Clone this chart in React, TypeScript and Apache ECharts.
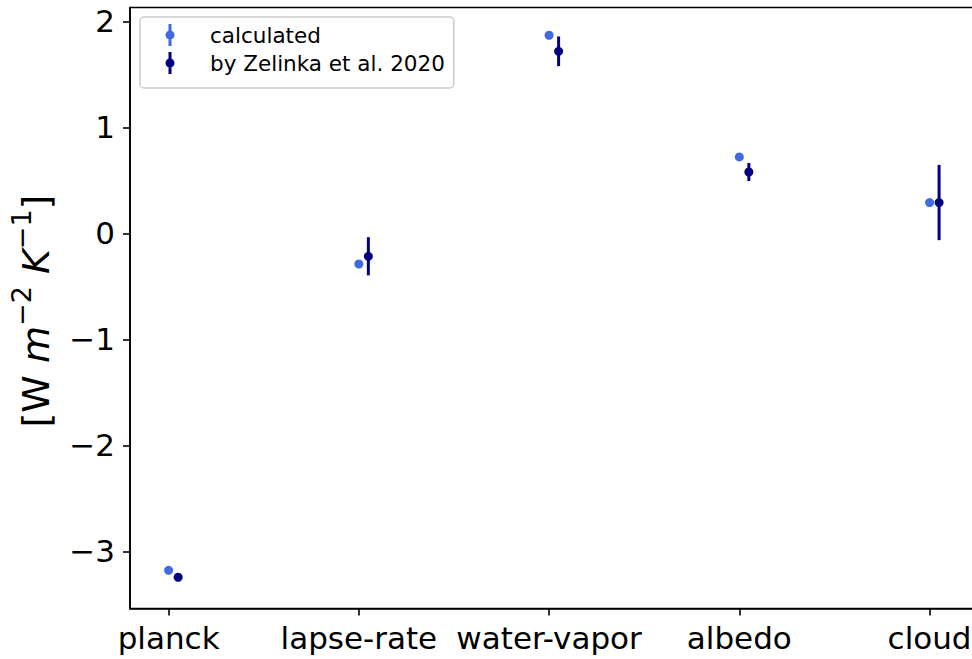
import React, { useEffect, useRef } from 'react';
import * as echarts from 'echarts';

const categories = ['planck', 'lapse-rate', 'water-vapor', 'albedo', 'cloud'];
const calculated = [-3.18, -0.29, 1.868, 0.72, 0.29];
const zelinka = [-3.245, -0.217, 1.717, 0.578, 0.29];
const zelinkaErr = [0.03, 0.18, 0.14, 0.085, 0.355];
const xTicks = [0, 1, 2, 3, 4];
const yTicks = [-3, -2, -1, 0, 1, 2];
const zelinkaOffset = 0.05;

const seriesNames = ['calculated', 'by Zelinka et al. 2020'];
const FONT = 'DejaVu Sans';
const ICON =
  'path://M3,0 L6,0 L6,22 L3,22 Z M0,11 A4.5,4.5 0 1 1 9,11 A4.5,4.5 0 1 1 0,11 Z';

export default function App() {
  const ref = useRef<HTMLDivElement>(null);

  useEffect(() => {
    if (!ref.current) return;
    const chart = echarts.init(ref.current, null, { renderer: 'svg' });
    const option: any = {
      animation: false,
      backgroundColor: '#ffffff',
      grid: {
        left: 129,
        right: 7.4,
        top: 7.5,
        bottom: 50.5,
        show: true,
        borderColor: '#000000',
        borderWidth: 1.6,
        backgroundColor: 'transparent',
      },
      legend: {
        orient: 'vertical',
        left: 140,
        top: 17,
        padding: [7, 9, 14, 25.5],
        itemWidth: 9,
        itemHeight: 22,
        itemGap: 6,
        symbolKeepAspect: true,
        backgroundColor: 'rgba(255,255,255,0.8)',
        borderColor: '#cccccc',
        borderWidth: 1.5,
        borderRadius: 4,
        formatter: (name: string) => `{t|${name}}`,
        textStyle: {
          fontFamily: FONT,
          fontSize: 21.5,
          color: '#000000',
          rich: {
            t: {
              fontFamily: FONT,
              fontSize: 21.5,
              color: '#000000',
              padding: [0, 0, 0, 30.5],
            },
          },
        },
        data: seriesNames.map((n) => ({ name: n, icon: ICON })),
      },
      xAxis: {
        type: 'value',
        min: -0.203,
        max: 4.2525,
        splitLine: { show: false },
        axisLine: { show: true, onZero: false, lineStyle: { color: '#000', width: 1.6 } },
        axisTick: {
          show: true,
          length: 7,
          customValues: xTicks,
          lineStyle: { color: '#000', width: 1.6 },
        },
        axisLabel: {
          customValues: xTicks,
          formatter: (v: number) => categories[Math.round(v)] ?? '',
          fontFamily: FONT,
          fontSize: 31,
          color: '#000',
          margin: 14,
        },
      },
      yAxis: {
        type: 'value',
        min: -3.54,
        max: 2.13,
        splitLine: { show: false },
        axisLine: { show: true, onZero: false, lineStyle: { color: '#000', width: 1.6 } },
        axisTick: {
          show: true,
          length: 7,
          customValues: yTicks,
          lineStyle: { color: '#000', width: 1.6 },
        },
        axisLabel: {
          customValues: yTicks,
          formatter: (v: number) => String(v).replace('-', '\u2212'),
          fontFamily: FONT,
          fontSize: 31,
          color: '#000',
          margin: 15,
        },
        name: '{n|[W }{i|m}{s|\u22122}{n| }{i|K}{s|\u22121}{n|]}',
        nameLocation: 'middle',
        nameGap: 67,
        nameTextStyle: {
          fontFamily: FONT,
          fontSize: 38,
          color: '#000',
          padding: [0, 6, 0, 0],
          rich: {
            n: { fontFamily: FONT, fontSize: 38, color: '#000' },
            i: { fontFamily: FONT, fontSize: 38, fontStyle: 'italic', color: '#000' },
            s: { fontFamily: FONT, fontSize: 27, color: '#000', padding: [0, 0, 28, 0] },
          },
        },
      },
      series: [
        {
          type: 'custom',
          name: 'errbar',
          silent: true,
          z: 2,
          data: zelinka.map((v, i) => [i + zelinkaOffset, v - zelinkaErr[i], v + zelinkaErr[i]]),
          encode: { x: 0, y: [1, 2] },
          renderItem: (params: any, api: any) => {
            const x = api.value(0);
            const p1 = api.coord([x, api.value(1)]);
            const p2 = api.coord([x, api.value(2)]);
            return {
              type: 'line',
              shape: { x1: p1[0], y1: p1[1], x2: p2[0], y2: p2[1] },
              style: { stroke: '#000080', lineWidth: 3 },
            };
          },
        },
        {
          type: 'scatter',
          name: seriesNames[0],
          z: 3,
          symbol: 'circle',
          symbolSize: 9,
          itemStyle: { color: '#4169E1', opacity: 1 },
          data: calculated.map((v, i) => [i, v]),
        },
        {
          type: 'scatter',
          name: seriesNames[1],
          z: 4,
          symbol: 'circle',
          symbolSize: 9,
          itemStyle: { color: '#000080', opacity: 1 },
          data: zelinka.map((v, i) => [i + zelinkaOffset, v]),
        },
      ],
    };
    chart.setOption(option);
    return () => chart.dispose();
  }, []);

  return (
    <div
      style={{
        position: 'absolute',
        left: 0,
        top: 0,
        width: 972,
        height: 659,
        overflow: 'hidden',
        background: '#fff',
      }}
    >
      <div ref={ref} style={{ width: 985, height: 659 }} />
    </div>
  );
}
